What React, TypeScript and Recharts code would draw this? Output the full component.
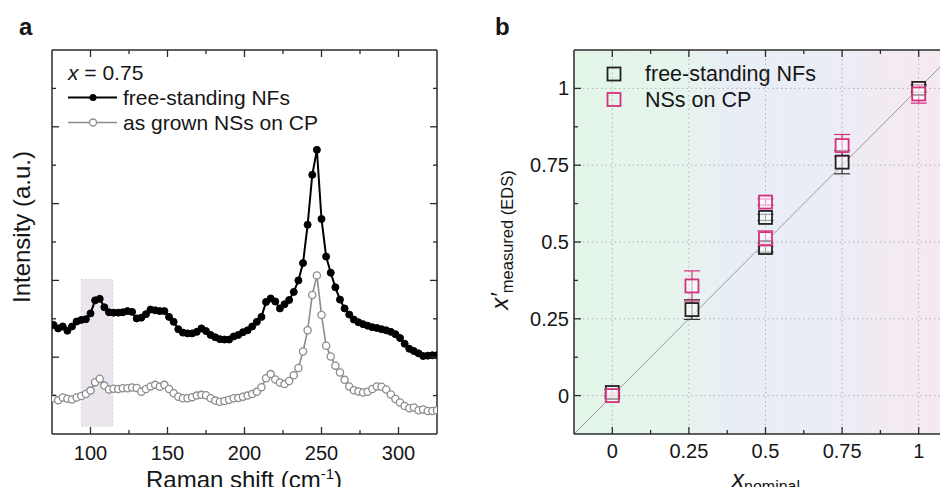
import React from 'react';
import {
  ComposedChart,
  Line,
  Scatter,
  ErrorBar,
  XAxis,
  YAxis,
  CartesianGrid,
  ReferenceArea,
  ReferenceLine,
  Legend,
} from 'recharts';

const FONT = '"Liberation Sans", Arial, Helvetica, sans-serif';
const AXIS = '#2b2b2b';
const TXT = '#161616';

// ---------- Panel a: Raman spectra ----------
const ramanShift = [
  76, 79, 82, 85, 88, 91, 94, 97, 100,
  103, 106, 109, 112, 115, 118, 121, 124, 127,
  130, 133, 136, 139, 142, 145, 148, 151, 154,
  157, 160, 163, 166, 169, 172, 175, 178, 181,
  184, 187, 190, 193, 196, 199, 202, 205, 208,
  211, 214, 217, 220, 223, 226, 229, 232, 235,
  238, 241, 244, 247, 250, 253, 256, 259, 262,
  265, 268, 271, 274, 277, 280, 283, 286, 289,
  292, 295, 298, 301, 304, 307, 310, 313, 316,
  319, 322, 325,
];
const nfIntensity = [
  2.84, 2.75, 2.8, 2.69, 2.8, 2.93, 2.97, 2.99, 3.14,
  3.48, 3.52, 3.3, 3.17, 3.16, 3.16, 3.17, 3.2, 3.18,
  3.01, 3.03, 3.12, 3.24, 3.22, 3.2, 3.2, 3.05, 2.92,
  2.73, 2.64, 2.62, 2.62, 2.66, 2.75, 2.68, 2.58, 2.52,
  2.47, 2.46, 2.46, 2.54, 2.58, 2.65, 2.7, 2.8, 2.92,
  3.05, 3.44, 3.53, 3.45, 3.27, 3.38, 3.49, 3.7, 4.0,
  4.45, 5.45, 6.75, 7.4, 5.6, 4.62, 4.2, 3.82, 3.5,
  3.27, 3.11, 2.98, 2.91, 2.86, 2.82, 2.78, 2.76, 2.73,
  2.7, 2.66, 2.6, 2.5, 2.35, 2.22, 2.16, 2.1, 2.03,
  2.04, 2.05, 2.05,
];
const cpIntensity = [
  0.93, 0.88, 0.95, 0.92, 0.9, 0.95, 0.99, 1.04, 1.13,
  1.35, 1.44, 1.26, 1.16, 1.18, 1.17, 1.19, 1.19, 1.21,
  1.2, 1.1, 1.17, 1.24, 1.28, 1.23, 1.28, 1.17, 1.06,
  0.97, 0.93, 0.93, 0.96, 1.0, 1.02, 1.01, 0.93, 0.87,
  0.84, 0.86, 0.89, 0.93, 0.94, 0.97, 1.0, 1.04, 1.1,
  1.22, 1.45, 1.56, 1.42, 1.34, 1.3, 1.38, 1.53, 1.72,
  2.15, 2.7, 3.62, 4.13, 3.1, 2.3, 2.02, 1.78, 1.6,
  1.41, 1.24, 1.14, 1.11, 1.08, 1.1, 1.17, 1.24, 1.23,
  1.16, 1.03, 0.91, 0.82, 0.73, 0.67, 0.69, 0.62, 0.64,
  0.6, 0.6, 0.62,
];
const ramanTicks = [100, 125, 150, 175, 200, 225, 250, 275, 300];
const intensityTicks = [1, 2, 3, 4, 5, 6, 7, 8, 9];
const bandX = [94, 114.5];
const bandY = [0.2, 4.03];

// ---------- Panel b: composition ----------
const nominalNF = [0, 0.26, 0.5, 0.5, 0.75, 1];
const measuredNF = [0.01, 0.28, 0.58, 0.482, 0.76, 1.0];
const errorNF = [0.01, 0.032, 0.01, 0.015, 0.038, 0.012];
const nominalCP = [0, 0.26, 0.5, 0.5, 0.75, 1];
const measuredCP = [0.0, 0.357, 0.63, 0.511, 0.814, 0.982];
const errorCP = [0.008, 0.049, 0.01, 0.025, 0.036, 0.03];
const compTicks = [0, 0.125, 0.25, 0.375, 0.5, 0.625, 0.75, 0.875, 1];
const compGrid = [0, 0.25, 0.5, 0.75, 1];

const ramanRows = ramanShift.map((x, i) => ({ x, nf: nfIntensity[i], cp: cpIntensity[i] }));
const nfPoints = nominalNF.map((x, i) => ({ x, y: measuredNF[i], err: errorNF[i] }));
const cpPoints = nominalCP.map((x, i) => ({ x, y: measuredCP[i], err: errorCP[i] }));

const isMultiple = (v: number, step: number) => Math.abs(v / step - Math.round(v / step)) < 1e-6;

type Side = 'bottom' | 'top' | 'left' | 'right';
function makeTick(side: Side, majorStep: number, showLabel: boolean, labelOffset: number) {
  return (props: any) => {
    const { x, y, payload } = props;
    const v = payload.value as number;
    const major = isMultiple(v, majorStep);
    const len = major ? 7 : 4;
    let x2 = x;
    let y2 = y;
    if (side === 'bottom') y2 = y - len;
    if (side === 'top') y2 = y + len;
    if (side === 'left') x2 = x + len;
    if (side === 'right') x2 = x - len;
    let label = null;
    if (showLabel && major) {
      if (side === 'bottom') {
        label = (
          <text x={x} y={y + labelOffset} textAnchor="middle" fontSize={20} fill={TXT} fontFamily={FONT}>
            {String(v)}
          </text>
        );
      } else if (side === 'left') {
        label = (
          <text x={x - labelOffset} y={y + 7} textAnchor="end" fontSize={20} fill={TXT} fontFamily={FONT}>
            {String(v)}
          </text>
        );
      }
    }
    return (
      <g>
        <line x1={x} y1={y} x2={x2} y2={y2} stroke={AXIS} strokeWidth={1.3} />
        {label}
      </g>
    );
  };
}

const axisLine = { stroke: AXIS, strokeWidth: 1.5 };

const OverlayA = () => (
  <svg width={474} height={495} style={{ display: 'block' }} fontFamily={FONT} fill={TXT}>
    <text x={19} y={35} fontWeight="bold" fontSize={24}>a</text>
    <text x={68} y={79.5} fontSize={21}>
      <tspan fontStyle="italic">x</tspan> = 0.75
    </text>
    <line x1={68} x2={117} y1={97.5} y2={97.5} stroke="#000" strokeWidth={2} />
    <circle cx={93} cy={97.5} r={3.5} fill="#000" />
    <text x={123} y={104.5} fontSize={21}>free-standing NFs</text>
    <line x1={68} x2={117} y1={122.5} y2={122.5} stroke="#8c8c8c" strokeWidth={1.6} />
    <circle cx={93} cy={122.5} r={3.5} fill="#fff" stroke="#8c8c8c" strokeWidth={1.3} />
    <text x={123} y={129.5} fontSize={21}>as grown NSs on CP</text>
    <text transform="translate(30,227) rotate(-90)" textAnchor="middle" fontSize={24}>
      Intensity (a.u.)
    </text>
    <text x={244} y={488} textAnchor="middle" fontSize={24}>
      Raman shift (cm<tspan dy={-9} fontSize={15}>-1</tspan>
      <tspan dy={9}>)</tspan>
    </text>
  </svg>
);

const OverlayB = () => (
  <svg width={510} height={495} style={{ display: 'block' }} fontFamily={FONT} fill={TXT}>
    <text x={21} y={35} fontWeight="bold" fontSize={24}>b</text>
    <rect x={133.5} y={67.5} width={13} height={13} fill="none" stroke="#222" strokeWidth={1.8} />
    <text x={171} y={81} fontSize={21.5}>free-standing NFs</text>
    <rect x={133.5} y={93} width={13} height={13} fill="none" stroke="#d4317f" strokeWidth={1.8} />
    <text x={171} y={106.5} fontSize={21.5}>NSs on CP</text>
    <text x={258} y={487} fontSize={24}>
      <tspan fontStyle="italic">x</tspan>
      <tspan dy={5} fontSize={16}>nominal</tspan>
    </text>
    <text transform="translate(34,240) rotate(-90)" textAnchor="middle" fontSize={24}>
      <tspan fontStyle="italic">x′</tspan>
      <tspan dy={5} fontSize={16.5}>measured (EDS)</tspan>
    </text>
  </svg>
);

const squareShape = (stroke: string) => (props: any) => {
  const { cx, cy } = props;
  return (
    <rect
      x={cx - 6.5}
      y={cy - 6.5}
      width={13}
      height={13}
      fill="#ffffff"
      fillOpacity={0.55}
      stroke={stroke}
      strokeWidth={1.8}
    />
  );
};

const overlayStyle = (w: number) => ({
  position: 'absolute' as const,
  left: 0,
  top: 0,
  width: w,
  height: 495,
  pointerEvents: 'none' as const,
});

export default function App() {
  return (
    <div style={{ width: 932, height: 479, position: 'relative' }}>
      <div style={{ position: 'absolute', left: -8, top: -8, width: 474, height: 495 }}>
        <ComposedChart width={474} height={495} data={ramanRows} margin={{ top: 20, right: 7, bottom: 31, left: 12 }}>
          <XAxis
            type="number"
            dataKey="x"
            domain={[75, 325]}
            ticks={ramanTicks}
            interval={0}
            allowDataOverflow
            height={30}
            tickSize={0}
            tickMargin={0}
            tickLine={false}
            axisLine={axisLine}
            tick={makeTick('bottom', 50, true, 26)}
          />
          <XAxis
            xAxisId="top"
            orientation="top"
            type="number"
            dataKey="x"
            domain={[75, 325]}
            ticks={ramanTicks}
            interval={0}
            allowDataOverflow
            height={30}
            tickSize={0}
            tickMargin={0}
            tickLine={false}
            axisLine={axisLine}
            tick={makeTick('top', 50, false, 0)}
          />
          <YAxis
            type="number"
            domain={[0, 10]}
            ticks={intensityTicks}
            interval={0}
            allowDataOverflow
            width={40}
            tickSize={0}
            tickMargin={0}
            tickLine={false}
            axisLine={axisLine}
            tick={makeTick('left', 2, false, 0)}
          />
          <YAxis
            yAxisId="right"
            orientation="right"
            type="number"
            domain={[0, 10]}
            ticks={intensityTicks}
            interval={0}
            allowDataOverflow
            width={30}
            tickSize={0}
            tickMargin={0}
            tickLine={false}
            axisLine={axisLine}
            tick={makeTick('right', 2, false, 0)}
          />
          <ReferenceArea
            x1={bandX[0]}
            x2={bandX[1]}
            y1={bandY[0]}
            y2={bandY[1]}
            fill="#ebe6ed"
            fillOpacity={1}
            stroke="#d3ccd6"
            strokeDasharray="2 2"
            strokeWidth={0.8}
          />
          <Line
            dataKey="cp"
            name="as grown NSs on CP"
            type="linear"
            stroke="#8c8c8c"
            strokeWidth={1.6}
            dot={{ r: 3.6, fill: '#fff', stroke: '#8c8c8c', strokeWidth: 1.3 }}
            activeDot={false}
            isAnimationActive={false}
          />
          <Line
            dataKey="nf"
            name="free-standing NFs"
            type="linear"
            stroke="#000"
            strokeWidth={2}
            dot={{ r: 3.5, fill: '#000', stroke: '#000', strokeWidth: 1 }}
            activeDot={false}
            isAnimationActive={false}
          />
          <Legend
            layout="horizontal"
            verticalAlign="middle"
            align="center"
            wrapperStyle={overlayStyle(474)}
            content={() => <OverlayA />}
          />
        </ComposedChart>
      </div>
      <div style={{ position: 'absolute', left: 466, top: -8, width: 474, height: 495, overflow: 'hidden' }}>
        <ComposedChart width={510} height={495} margin={{ top: 20, right: 7, bottom: 31, left: 60 }}>
          <defs>
            <linearGradient id="compBg" x1="0" y1="0" x2="1" y2="0">
              <stop offset="0%" stopColor="#e3f6e8" />
              <stop offset="26%" stopColor="#e6f5ec" />
              <stop offset="40%" stopColor="#e8eef6" />
              <stop offset="66%" stopColor="#ebedf6" />
              <stop offset="80%" stopColor="#f2eaf2" />
              <stop offset="100%" stopColor="#f5e9f0" />
            </linearGradient>
          </defs>
          <CartesianGrid
            fill="url(#compBg)"
            fillOpacity={1}
            stroke="#b3b3b3"
            strokeDasharray="1.5 3"
            horizontalValues={compGrid}
            verticalValues={compGrid}
          />
          <XAxis
            type="number"
            dataKey="x"
            domain={[-0.125, 1.125]}
            ticks={compTicks}
            interval={0}
            allowDataOverflow
            height={30}
            tickSize={0}
            tickMargin={0}
            tickLine={false}
            axisLine={axisLine}
            tick={makeTick('bottom', 0.25, true, 24)}
          />
          <XAxis
            xAxisId="top"
            orientation="top"
            type="number"
            dataKey="x"
            domain={[-0.125, 1.125]}
            ticks={compTicks}
            interval={0}
            allowDataOverflow
            height={30}
            tickSize={0}
            tickMargin={0}
            tickLine={false}
            axisLine={axisLine}
            tick={makeTick('top', 0.25, false, 0)}
          />
          <YAxis
            type="number"
            dataKey="y"
            domain={[-0.125, 1.125]}
            ticks={compTicks}
            interval={0}
            allowDataOverflow
            width={40}
            tickSize={0}
            tickMargin={0}
            tickLine={false}
            axisLine={axisLine}
            tick={makeTick('left', 0.25, true, 5)}
          />
          <YAxis
            yAxisId="right"
            orientation="right"
            type="number"
            dataKey="y"
            domain={[-0.125, 1.125]}
            ticks={compTicks}
            interval={0}
            allowDataOverflow
            width={20}
            tickSize={0}
            tickMargin={0}
            tickLine={false}
            axisLine={axisLine}
            tick={makeTick('right', 0.25, false, 0)}
          />
          <ReferenceLine
            segment={[
              { x: -0.125, y: -0.125 },
              { x: 1.125, y: 1.125 },
            ]}
            stroke="#9a9a9a"
            strokeWidth={1}
          />
          <Scatter
            name="free-standing NFs"
            data={nfPoints}
            dataKey="y"
            shape={squareShape('#222')}
            isAnimationActive={false}
          >
            <ErrorBar dataKey="err" direction="y" width={8} stroke="#333" strokeWidth={1.2} />
          </Scatter>
          <Scatter
            name="NSs on CP"
            data={cpPoints}
            dataKey="y"
            shape={squareShape('#d4317f')}
            isAnimationActive={false}
          >
            <ErrorBar dataKey="err" direction="y" width={8} stroke="#d4317f" strokeWidth={1.2} />
          </Scatter>
          <Legend
            layout="horizontal"
            verticalAlign="middle"
            align="center"
            wrapperStyle={overlayStyle(510)}
            content={() => <OverlayB />}
          />
        </ComposedChart>
      </div>
    </div>
  );
}
